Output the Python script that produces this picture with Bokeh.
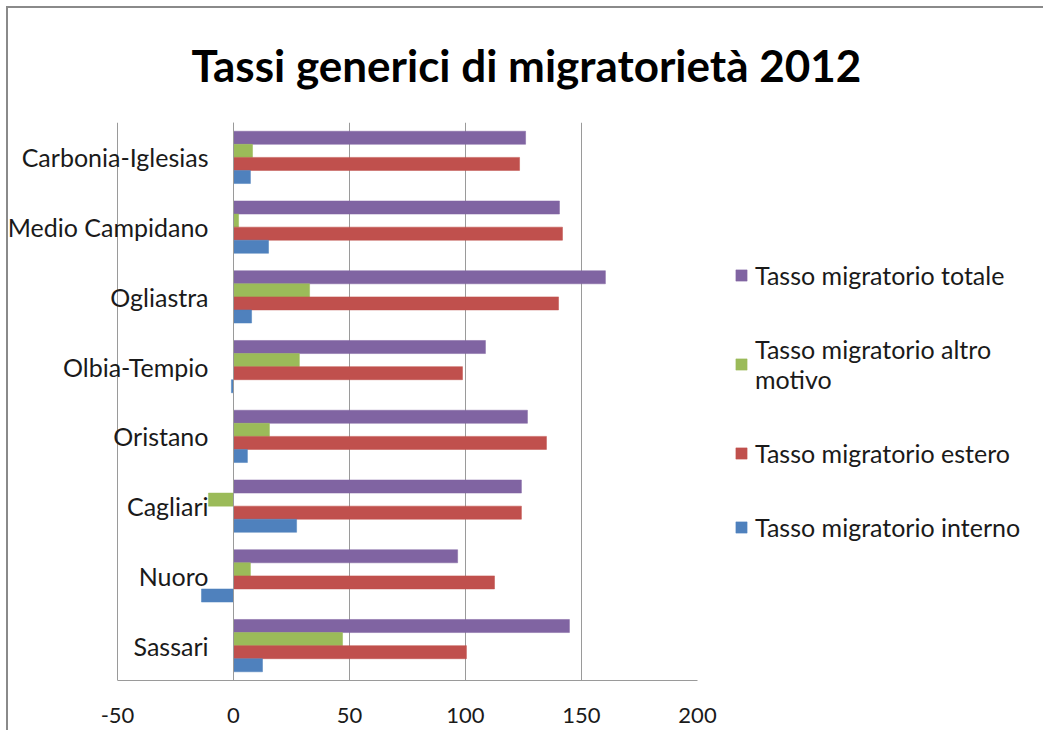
from bokeh.plotting import figure
from bokeh.models import Legend, LegendItem, Range1d, FactorRange, Title, FixedTicker
from bokeh.transform import dodge
from bokeh.embed import file_html
from bokeh.resources import INLINE

provinces = ["Carbonia-Iglesias", "Medio Campidano", "Ogliastra", "Olbia-Tempio",
             "Oristano", "Cagliari", "Nuoro", "Sassari"]
totale = [125.9, 140.5, 160.3, 108.6, 126.7, 124.1, 96.6, 144.8]
altro = [8.2, 2.2, 32.8, 28.4, 15.5, -10.8, 7.3, 47.0]
estero = [123.3, 141.8, 140.1, 98.7, 134.9, 124.1, 112.5, 100.4]
interno = [7.3, 15.1, 7.8, -0.9, 6.0, 27.2, -13.8, 12.5]
x_ticks = [-50, 0, 50, 100, 150, 200]

series = [
    ("Tasso migratorio totale", totale, "#8064A2"),
    ("Tasso migratorio altro\nmotivo", altro, "#9BBB59"),
    ("Tasso migratorio estero", estero, "#C0504D"),
    ("Tasso migratorio interno", interno, "#4F81BD"),
]

FONT = "Lato"
# frame starts at the chart's left edge so the category labels (drawn inside it) are not clipped
p = figure(frame_width=689, frame_height=558, output_backend="svg", toolbar_location=None,
           y_range=FactorRange(factors=list(reversed(provinces))),
           x_range=Range1d(-96.98, 200),
           min_border_left=0, min_border_right=330, min_border_top=113, min_border_bottom=50)
p.title = None
t = Title(text="Tassi generici di migratorietà 2012", align="left", offset=183,
          vertical_align="top",
          text_font=FONT, text_font_size="44px", text_font_style="bold",
          text_color="#000000", standoff=60)
p.add_layout(t, "above")

h = 0.1875
offsets = [1.5 * h, 0.5 * h, -0.5 * h, -1.5 * h]
items = []
for (name, vals, color), off in zip(series, offsets):
    src = dict(prov=provinces, v=vals)
    r = p.hbar(y=dodge("prov", off, range=p.y_range), left=0, right="v", height=h,
               source=src, fill_color=color, line_color=color, line_width=0.5)
    items.append(LegendItem(label=name, renderers=[r]))

p.outline_line_color = None
p.ygrid.grid_line_color = None
p.xgrid.grid_line_color = "#9a9a9a"
p.xgrid.grid_line_width = 1
p.xgrid.ticker = FixedTicker(ticks=x_ticks)
p.xgrid.level = "underlay"

p.xaxis.ticker = FixedTicker(ticks=x_ticks)
p.xaxis.bounds = (x_ticks[0], x_ticks[-1])
p.xaxis.major_label_overrides = {-50: "-50"}
p.xaxis.axis_line_color = "#9a9a9a"
p.xaxis.major_tick_line_color = None
p.xaxis.minor_tick_line_color = None
p.xaxis.major_label_text_font = FONT
p.xaxis.major_label_text_font_size = "22px"
p.xaxis.major_label_text_color = "#1a1a1a"
p.xaxis.major_label_standoff = 21

p.yaxis.fixed_location = 0
p.yaxis.axis_line_color = "#9a9a9a"
p.yaxis.major_tick_line_color = None
p.yaxis.minor_tick_line_color = None
p.yaxis.major_label_text_font = FONT
p.yaxis.major_label_text_font_size = "25px"
p.yaxis.major_label_text_color = "#1a1a1a"
p.yaxis.major_label_standoff = 19

legend = Legend(items=items, location="left", border_line_color=None,
                background_fill_alpha=0, label_text_font=FONT,
                label_text_font_size="25px", label_text_color="#1a1a1a",
                glyph_width=14, glyph_height=14, spacing=44, margin=37, padding=6,
                label_standoff=7)
p.add_layout(legend, "right")

p.styles = {"margin-left": "6px", "margin-top": "6px",
            "border-left": "2px solid #8a8a8a", "border-top": "2px solid #8a8a8a"}

open("out.html", "w").write(file_html(p, INLINE))
